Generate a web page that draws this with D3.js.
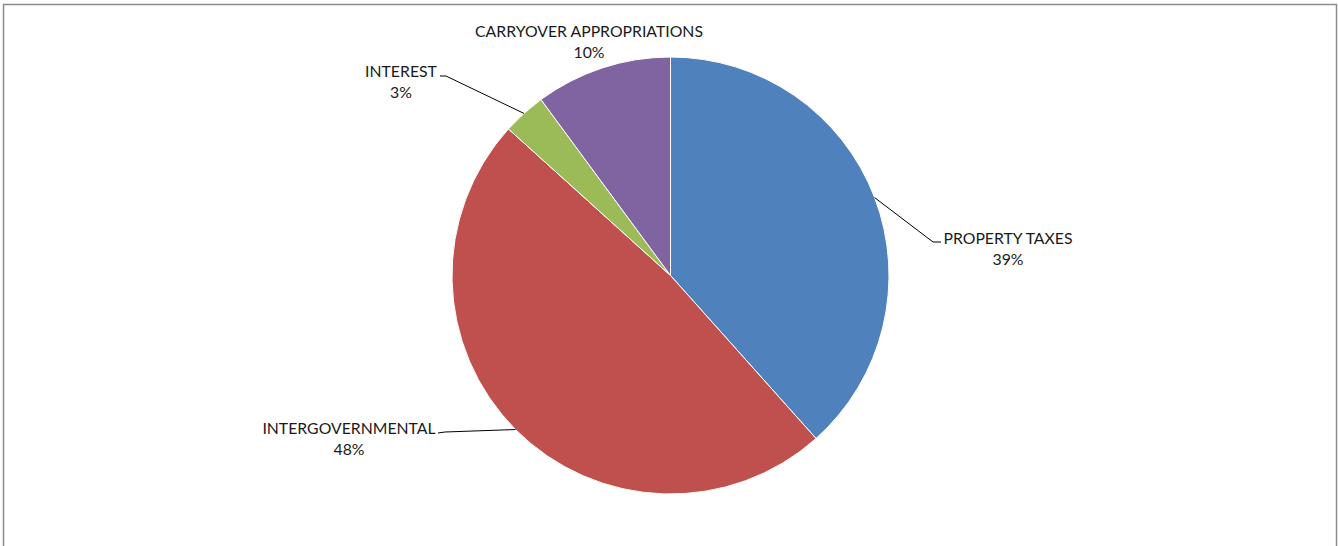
<!DOCTYPE html>
<html>
<head>
<meta charset="utf-8">
<script src="https://cdn.jsdelivr.net/npm/d3@7"></script>
<style>
  html, body { margin: 0; padding: 0; background: #fff; }
  svg { display: block; }
  text { font-family: Lato, "Open Sans", sans-serif; font-size: 15.8px; fill: #1a1a1a; }
</style>
</head>
<body>
<svg id="chart" width="1338" height="546"></svg>
<script>
// Revenue sources, share of total (percent)
const categories = ["PROPERTY TAXES", "INTERGOVERNMENTAL", "INTEREST", "CARRYOVER APPROPRIATIONS"];
const values = [38.4, 48.3, 3.2, 10.1];
const percentLabels = ["39%", "48%", "3%", "10%"];
const colors = ["#4F81BD", "#C0504D", "#9BBB59", "#8064A2"];

const svg = d3.select("#chart");

// outer chart frame
svg.append("rect")
  .attr("x", 3.5).attr("y", 4.5)
  .attr("width", 1333).attr("height", 560)
  .attr("fill", "none")
  .attr("stroke", "#8c8c8c")
  .attr("stroke-width", 1.5);

const cx = 670.5, cy = 275.5, radius = 218.5;

const data = categories.map((c, i) => ({ name: c, value: values[i], label: percentLabels[i], color: colors[i] }));

const pie = d3.pie().value(d => d.value).sort(null);
const arc = d3.arc().innerRadius(0).outerRadius(radius);
const arcs = pie(data);

const g = svg.append("g").attr("transform", `translate(${cx},${cy})`);

g.selectAll("path.slice")
  .data(arcs)
  .enter().append("path")
  .attr("class", "slice")
  .attr("d", arc)
  .attr("fill", d => d.data.color)
  .attr("stroke", "#fff")
  .attr("stroke-width", 1);

// label layout: elbow point of leader line, end of leader, text centre
const labelLayout = [
  { elbow: [933, 242], end: [941, 242], text: [1008, 244], leader: true },
  { elbow: [445, 432], end: [438, 433], text: [349, 434], leader: true },
  { elbow: [446, 76], end: [440, 76], text: [401, 77], leader: true },
  { elbow: null, end: null, text: [589, 37], leader: false }
];

arcs.forEach((a, i) => {
  const L = labelLayout[i];
  const mid = (a.startAngle + a.endAngle) / 2;
  const px = cx + radius * Math.sin(mid);
  const py = cy - radius * Math.cos(mid);
  if (L.leader) {
    svg.append("polyline")
      .attr("points", [[px, py], L.elbow, L.end].map(p => p.join(",")).join(" "))
      .attr("fill", "none")
      .attr("stroke", "#000")
      .attr("stroke-width", 1);
  }
  const t = svg.append("text")
    .attr("x", L.text[0]).attr("y", L.text[1])
    .attr("text-anchor", "middle");
  t.append("tspan").attr("x", L.text[0]).text(a.data.name);
  t.append("tspan").attr("x", L.text[0]).attr("dy", 21).text(a.data.label);
});
</script>
</body>
</html>
